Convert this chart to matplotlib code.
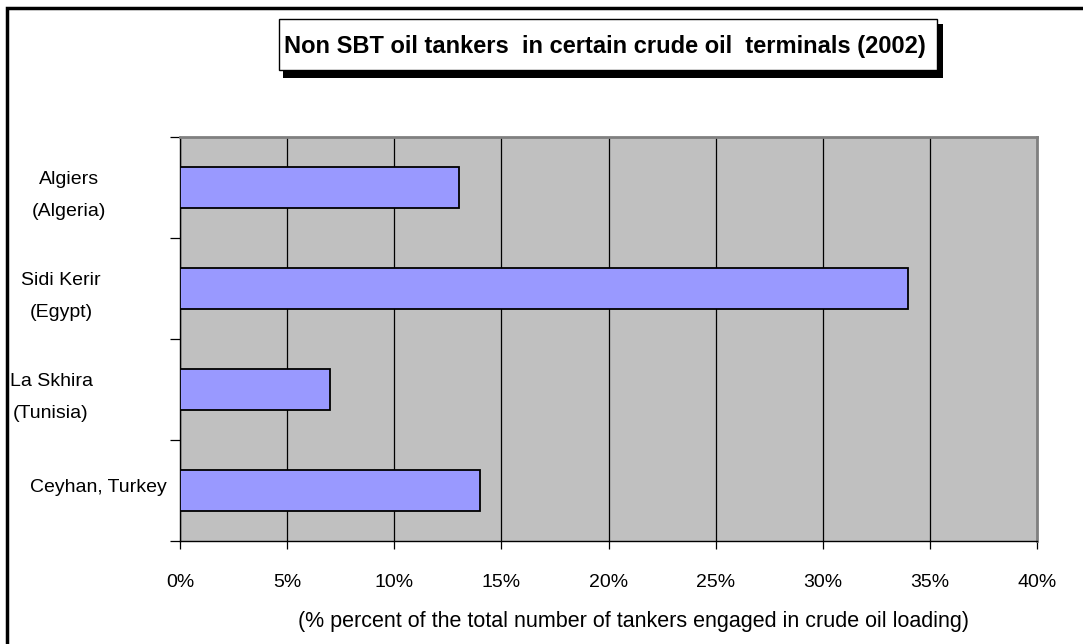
import matplotlib
matplotlib.use("Agg")
import matplotlib.pyplot as plt
from matplotlib.patches import Rectangle
from matplotlib.transforms import blended_transform_factory
from matplotlib.ticker import FuncFormatter, MultipleLocator

plt.rcParams['font.family'] = ['Liberation Sans', 'DejaVu Sans']

# terminals, top to bottom as shown
terminals = ["Algiers\n(Algeria)", "Sidi Kerir\n(Egypt)", "La Skhira\n(Tunisia)", "Ceyhan, Turkey"]
share = [13, 34, 7, 14]  # % of tankers that are non SBT
label_x = [69, 61, 51, 98]  # label centres in pixels

W, H = 1083, 644
fig = plt.figure(figsize=(W / 100, H / 100), dpi=100)
ax = fig.add_axes([180 / W, 1 - 541 / H, (1037 - 180) / W, (541 - 137) / H])
ax.set_facecolor("#C0C0C0")

ypos = list(range(len(terminals)))[::-1]
ax.barh(ypos, share, height=0.4, color="#9999FF", edgecolor="black", linewidth=1.3, zorder=3)

ax.set_xlim(0, 40)
ax.set_ylim(-0.5, len(terminals) - 0.5)
ax.xaxis.set_major_locator(MultipleLocator(5))
ax.xaxis.set_major_formatter(FuncFormatter(lambda v, p: f"{v:.0f}%"))
ax.grid(axis="x", color="black", linewidth=0.9, zorder=1)
ax.set_axisbelow(True)

ax.set_yticks([y - 0.5 for y in range(len(terminals) + 1)])
ax.set_yticklabels([])
ax.tick_params(axis="y", direction="out", length=7, width=0.9, color="black")
ax.tick_params(axis="x", direction="out", length=6, width=0.9, pad=18, labelsize=14)

for s in ("top", "right"):
    ax.spines[s].set_color("#808080")
    ax.spines[s].set_linewidth(2)
for s in ("left", "bottom"):
    ax.spines[s].set_color("black")
    ax.spines[s].set_linewidth(1.0)

# category names sit a little below the bar centre when wrapped
trans = blended_transform_factory(fig.transFigure, ax.transData)
for name, y, lx in zip(terminals, ypos, label_x):
    dy = -0.08 if "\n" in name else 0.03
    ax.text(lx / W, y + dy, name, transform=trans, ha="center", va="center",
            multialignment="center", fontsize=14, linespacing=2.1)

fig.text(634 / W, 1 - 622 / H,
         "(% percent of the total number of tankers engaged in crude oil loading)",
         ha="center", va="center", fontsize=15.5)

# title box with drop shadow
bx0, by0, bx1, by1 = 279, 19, 937, 70
fig.patches.append(Rectangle(((bx0 + 4) / W, 1 - (by1 + 8) / H), (bx1 - bx0 + 2) / W, (by1 - by0 + 3) / H,
                             transform=fig.transFigure, facecolor="black", edgecolor="none", zorder=1))
fig.patches.append(Rectangle((bx0 / W, 1 - by1 / H), (bx1 - bx0) / W, (by1 - by0) / H,
                             transform=fig.transFigure, facecolor="white", edgecolor="black",
                             linewidth=1, zorder=2))
fig.text(605 / W, 1 - 46 / H,
         "Non SBT oil tankers  in certain crude oil  terminals (2002)",
         ha="center", va="center", fontsize=17, fontweight="bold", zorder=3)

# outer chart frame
fig.patches.append(Rectangle((7 / W, -0.05), 1.1, 1 - 8 / H + 0.05, transform=fig.transFigure,
                             facecolor="none", edgecolor="black", linewidth=2.5, zorder=0))

fig.savefig("out.png", dpi=100)
